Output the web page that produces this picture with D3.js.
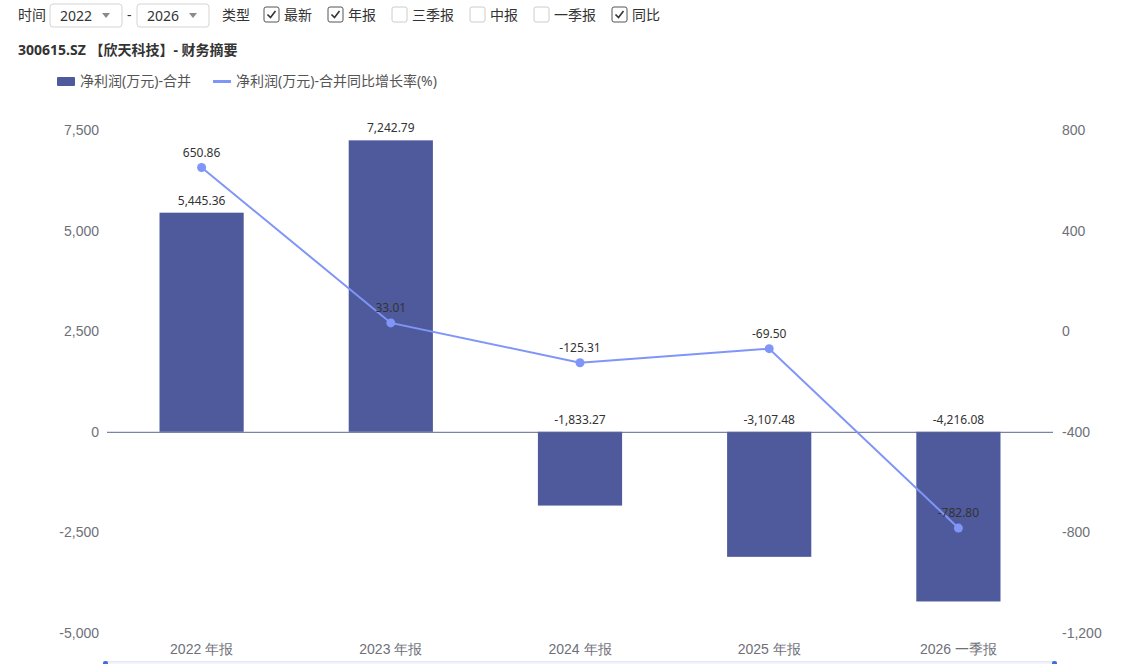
<!DOCTYPE html>
<html>
<head>
<meta charset="utf-8">
<script src="https://cdn.jsdelivr.net/npm/d3@7"></script>
<style>
  html, body { margin: 0; padding: 0; background: #fff; }
  svg { display: block; font-family: "Noto Sans", "Noto Sans CJK SC", sans-serif; }
</style>
</head>
<body>
<svg id="chart" width="1146" height="664"></svg>
<script>
// data
const categories = ["2022 年报", "2023 年报", "2024 年报", "2025 年报", "2026 一季报"];
const netProfit = [5445.36, 7242.79, -1833.27, -3107.48, -4216.08];
const yoyGrowth = [650.86, 33.01, -125.31, -69.50, -782.80];
const leftTicks = [-5000, -2500, 0, 2500, 5000, 7500];
const rightTicks = [-1200, -800, -400, 0, 400, 800];
const typeOptions = ["最新", "年报", "三季报", "中报", "一季报", "同比"];
const typeChecked = [true, true, false, false, false, true];
const yearFrom = "2022", yearTo = "2026";
const titleText = "300615.SZ 【欣天科技】- 财务摘要";
const seriesNames = ["净利润(万元)-合并", "净利润(万元)-合并同比增长率(%)"];

const barColor = "#4e5a9b";
const lineColor = "#7f95f7";
const axisText = "#6e7079";

const loc = d3.formatLocale({ decimal: ".", thousands: ",", grouping: [3], currency: ["", ""], minus: "-" });
const fmtVal = loc.format(",.2f");
const fmtTick = loc.format(",");

const svg = d3.select("#chart");

// ---- top controls ----
const ctl = svg.append("g");
ctl.append("text").attr("x", 18).attr("y", 20).attr("font-size", 14).attr("fill", "#333").text("时间");

function selectBox(x, label) {
  const g = ctl.append("g").attr("transform", "translate(" + x + ",4)");
  g.append("rect").attr("width", 72).attr("height", 23).attr("rx", 3)
    .attr("fill", "#fff").attr("stroke", "#d4d4d4");
  g.append("text").attr("x", 10).attr("y", 17).attr("font-size", 14).attr("fill", "#333").text(label);
  g.append("path").attr("d", "M52,9 L60,9 L56,14 Z").attr("fill", "#8a8a8a");
}
selectBox(50, yearFrom);
ctl.append("text").attr("x", 127).attr("y", 20).attr("font-size", 14).attr("fill", "#333").text("-");
selectBox(137, yearTo);
ctl.append("text").attr("x", 222).attr("y", 20).attr("font-size", 14).attr("fill", "#333").text("类型");

let cx = 264;
typeOptions.forEach(function (name, i) {
  const g = ctl.append("g").attr("transform", "translate(" + cx + ",7)");
  g.append("rect").attr("width", 15).attr("height", 15).attr("rx", 2)
    .attr("fill", "#fff").attr("stroke", typeChecked[i] ? "#555" : "#ccc");
  if (typeChecked[i]) {
    g.append("path").attr("d", "M3.5,7.5 L6.5,10.5 L11.5,4").attr("fill", "none")
      .attr("stroke", "#333").attr("stroke-width", 1.6);
  }
  const t = g.append("text").attr("x", 20).attr("y", 13).attr("font-size", 14).attr("fill", "#333").text(name);
  cx += 20 + t.node().getComputedTextLength() + 16;
});

// ---- title ----
svg.append("text").attr("x", 18).attr("y", 55).attr("font-size", 14).attr("font-weight", "bold")
  .attr("fill", "#333").text(titleText);

// ---- legend ----
const leg = svg.append("g");
leg.append("rect").attr("x", 57).attr("y", 77).attr("width", 18).attr("height", 9).attr("rx", 1).attr("fill", barColor);
leg.append("text").attr("x", 80).attr("y", 86).attr("font-size", 14).attr("fill", "#555").text(seriesNames[0]);
leg.append("line").attr("x1", 213).attr("x2", 231).attr("y1", 81.5).attr("y2", 81.5)
  .attr("stroke", lineColor).attr("stroke-width", 3);
leg.append("text").attr("x", 236).attr("y", 86).attr("font-size", 14).attr("fill", "#555").text(seriesNames[1]);

// ---- scales ----
const plotL = 107, plotR = 1053, plotT = 130, plotB = 633;
const x = d3.scaleBand().domain(categories).range([plotL, plotR]).padding(0);
const yL = d3.scaleLinear().domain([-5000, 7500]).range([plotB, plotT]);
const yR = d3.scaleLinear().domain([-1200, 800]).range([plotB, plotT]);
const barW = x.bandwidth() * 0.445;
const mid = function (c) { return x(c) + x.bandwidth() / 2; };

// ---- axes ----
const axL = svg.append("g").attr("transform", "translate(" + (plotL - 8) + ",0)")
  .call(d3.axisLeft(yL).tickValues(leftTicks).tickFormat(fmtTick).tickSize(0).tickPadding(0));
const axR = svg.append("g").attr("transform", "translate(" + (plotR + 9) + ",0)")
  .call(d3.axisRight(yR).tickValues(rightTicks).tickFormat(fmtTick).tickSize(0).tickPadding(0));
[axL, axR].forEach(function (a) {
  a.select(".domain").remove();
  a.selectAll("text").attr("font-size", 14).attr("fill", axisText).attr("font-family", null);
});
const axX = svg.append("g").attr("transform", "translate(0," + (plotB + 9) + ")")
  .call(d3.axisBottom(x).tickSize(0).tickPadding(0));
axX.select(".domain").remove();
axX.selectAll("text").attr("font-size", 14).attr("fill", axisText).attr("font-family", null).attr("dy", "0.85em");

// ---- bars ----
svg.append("g").selectAll("rect").data(netProfit).join("rect")
  .attr("x", function (d, i) { return mid(categories[i]) - barW / 2; })
  .attr("width", barW)
  .attr("y", function (d) { return yL(Math.max(0, d)); })
  .attr("height", function (d) { return Math.abs(yL(d) - yL(0)); })
  .attr("fill", barColor);

// zero line
svg.append("line").attr("x1", plotL).attr("x2", plotR).attr("y1", yL(0) + 0.5).attr("y2", yL(0) + 0.5)
  .attr("stroke", "#5b6494").attr("stroke-width", 1);

// bar labels
svg.append("g").selectAll("text").data(netProfit).join("text")
  .attr("x", function (d, i) { return mid(categories[i]); })
  .attr("y", function (d) { return yL(Math.max(0, d)) - 8; })
  .attr("text-anchor", "middle").attr("font-size", 12).attr("fill", "#333")
  .text(function (d) { return fmtVal(d); });

// ---- line ----
const line = d3.line().x(function (d, i) { return mid(categories[i]); }).y(function (d) { return yR(d); });
svg.append("path").datum(yoyGrowth).attr("d", line).attr("fill", "none")
  .attr("stroke", lineColor).attr("stroke-width", 2);
svg.append("g").selectAll("circle").data(yoyGrowth).join("circle")
  .attr("cx", function (d, i) { return mid(categories[i]); })
  .attr("cy", function (d) { return yR(d); })
  .attr("r", 4.5).attr("fill", lineColor);
svg.append("g").selectAll("text").data(yoyGrowth).join("text")
  .attr("x", function (d, i) { return mid(categories[i]); })
  .attr("y", function (d) { return yR(d) - 11; })
  .attr("text-anchor", "middle").attr("font-size", 12).attr("fill", "#333")
  .text(function (d) { return fmtVal(d); });

// ---- data zoom strip at the bottom edge ----
svg.append("rect").attr("x", plotL - 2).attr("y", 661.5).attr("width", plotR - plotL + 4).attr("height", 6)
  .attr("fill", "#f1f3fa").attr("stroke", "#e3e7f3");
svg.append("rect").attr("x", plotL - 4).attr("y", 661).attr("width", 5).attr("height", 6).attr("rx", 2).attr("fill", "#3d6fd8");
svg.append("rect").attr("x", plotR - 1).attr("y", 661).attr("width", 5).attr("height", 6).attr("rx", 2).attr("fill", "#3d6fd8");
</script>
</body>
</html>
